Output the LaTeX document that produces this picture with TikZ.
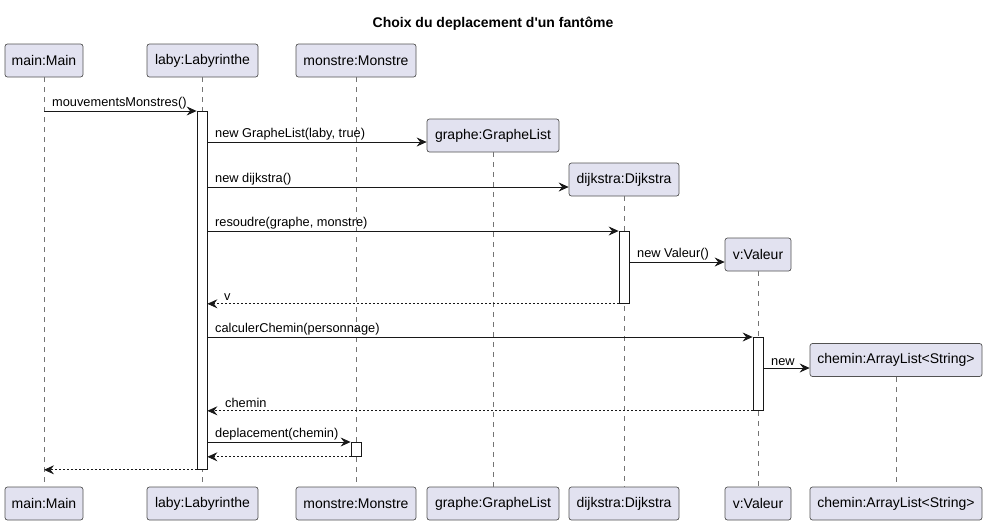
\documentclass[tikz,border=0pt]{standalone}
\usepackage{fontspec}
\setmainfont{Liberation Sans}
\usetikzlibrary{arrows.meta}
\definecolor{pfill}{HTML}{E2E2F0}
\definecolor{pline}{HTML}{181818}
\begin{document}
\begin{tikzpicture}[x=1pt,y=-1pt,
  part/.style={draw=pline!75, fill=pfill, rounded corners=2.5pt, minimum height=33pt, inner sep=0pt, line width=0.7pt, font=\fontsize{14}{16}\selectfont},
  life/.style={draw=pline!60, line width=0.7pt, dash pattern=on 5pt off 5pt},
  act/.style={draw=pline, fill=white, line width=0.8pt, minimum width=10pt, inner sep=0pt, anchor=north},
  msg/.style={draw=pline, line width=0.8pt, -{Stealth[length=10pt,width=9pt,inset=3.5pt]}},
  ret/.style={msg, dash pattern=on 2pt off 2pt},
  lbl/.style={font=\fontsize{12.8}{15}\selectfont, inner sep=0pt, anchor=south west}]
\useasboundingbox (0,0) rectangle (987,525);
\node[font=\bfseries\fontsize{14}{16}\selectfont] (title) at (493,24) {Choix du deplacement d\textquotesingle un fantôme};
% participants top
\node[part, minimum width=78pt] (mainT) at (44,60.5) {main:Main};
\node[part, minimum width=111pt] (labyT) at (202.5,60.5) {laby:Labyrinthe};
\node[part, minimum width=120pt] (monT) at (356,60.5) {monstre:Monstre};
\node[part, minimum width=132pt] (graT) at (493,135.5) {graphe:GrapheList};
\node[part, minimum width=110pt] (dijT) at (624,179.5) {dijkstra:Dijkstra};
\node[part, minimum width=66pt] (valT) at (758,254.5) {v:Valeur};
\node[part, minimum width=172pt] (chT) at (896,360) {chemin:ArrayList<String>};
% participants bottom
\node[part, minimum width=78pt] (mainB) at (44,503.5) {main:Main};
\node[part, minimum width=111pt] (labyB) at (202.5,503.5) {laby:Labyrinthe};
\node[part, minimum width=120pt] (monB) at (356,503.5) {monstre:Monstre};
\node[part, minimum width=132pt] (graB) at (493,503.5) {graphe:GrapheList};
\node[part, minimum width=110pt] (dijB) at (624,503.5) {dijkstra:Dijkstra};
\node[part, minimum width=66pt] (valB) at (758,503.5) {v:Valeur};
\node[part, minimum width=172pt] (chB) at (896,503.5) {chemin:ArrayList<String>};
% lifelines
\draw[life] (mainT.south) -- (mainB.north);
\draw[life] (labyT.south) -- (labyB.north);
\draw[life] (monT.south) -- (monB.north);
\draw[life] (graT.south) -- (graB.north);
\draw[life] (dijT.south) -- (dijB.north);
\draw[life] (valT.south) -- (valB.north);
\draw[life] (chT.south) -- (chB.north);
% activations
\node[act, minimum height=358pt] (actL) at (202,111) {};
\node[act, minimum height=72pt] (actD) at (624,231) {};
\node[act, minimum height=73pt] (actV) at (758,337) {};
\node[act, minimum height=14pt] (actM) at (356,442) {};
% messages
\draw[msg] (mainT.south |- actL.north) -- (actL.north west);
\node[lbl] (l1) at (52,109) {mouvementsMonstres()};
\draw[msg] (actL.east |- 0,142) -- (graT.west |- 0,142);
\node[lbl] (l2) at (215,140) {new GrapheList(laby, true)};
\draw[msg] (actL.east |- 0,187) -- (dijT.west |- 0,187);
\node[lbl] (l3) at (215,185) {new dijkstra()};
\draw[msg] (actL.east |- actD.north) -- (actD.north west);
\node[lbl] (l4) at (215,229) {resoudre(graphe, monstre)};
\draw[msg] (actD.east |- 0,262) -- (valT.west |- 0,262);
\node[lbl] (l5) at (637,260) {new Valeur()};
\draw[ret] (actD.south west) -- (actL.east |- actD.south);
\node[lbl] (l6) at (224,301) {v};
\draw[msg] (actL.east |- actV.north) -- (actV.north west);
\node[lbl] (l7) at (215,335) {calculerChemin(personnage)};
\draw[msg] (actV.east |- 0,368) -- (chT.west |- 0,368);
\node[lbl] (l8) at (771,366) {new};
\draw[ret] (actV.south west) -- (actL.east |- actV.south);
\node[lbl] (l9) at (225,408) {chemin};
\draw[msg] (actL.east |- actM.north) -- (actM.north west);
\node[lbl] (l10) at (215,440) {deplacement(chemin)};
\draw[ret] (actM.south west) -- (actL.east |- actM.south);
\draw[ret] (actL.south west) -- (mainT.south |- actL.south);
\end{tikzpicture}
\end{document}
